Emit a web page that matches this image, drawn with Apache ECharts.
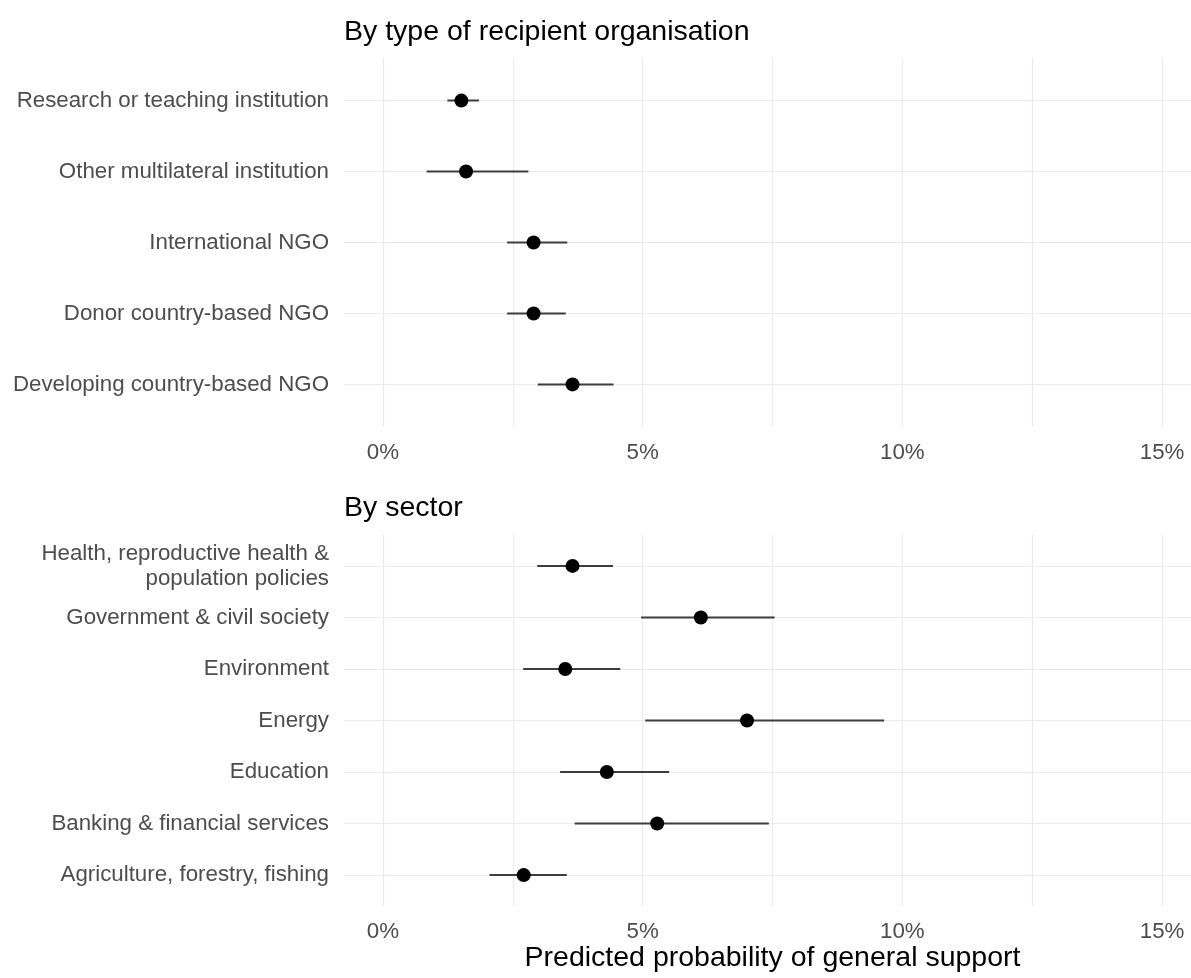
<!DOCTYPE html>
<html>
<head>
<meta charset="utf-8">
<script src="https://cdn.jsdelivr.net/npm/echarts@6/dist/echarts.min.js"></script>
<style>
html,body{margin:0;padding:0;background:#ffffff;}
#chart{width:1191px;height:978px;}
</style>
</head>
<body>
<div id="chart"></div>
<script>
// ---- Data (percent) ----
const orgCategories = [
  'Research or teaching institution',
  'Other multilateral institution',
  'International NGO',
  'Donor country-based NGO',
  'Developing country-based NGO'
];
const orgEstimate = [1.51, 1.60, 2.90, 2.90, 3.65];
const orgLower    = [1.24, 0.84, 2.39, 2.39, 2.98];
const orgUpper    = [1.85, 2.80, 3.55, 3.52, 4.44];

const sectorCategories = [
  'Health, reproductive health &\npopulation policies',
  'Government & civil society',
  'Environment',
  'Energy',
  'Education',
  'Banking & financial services',
  'Agriculture, forestry, fishing'
];
const sectorEstimate = [3.65, 6.12, 3.51, 7.01, 4.31, 5.28, 2.71];
const sectorLower    = [2.97, 4.97, 2.70, 5.05, 3.41, 3.69, 2.05];
const sectorUpper    = [4.43, 7.54, 4.57, 9.65, 5.51, 7.43, 3.54];

const xTickLabels = [0, 5, 10, 15];
const xGridValues = [0, 2.5, 5, 7.5, 10, 12.5, 15];
const panelTitles = ['By type of recipient organisation', 'By sector'];
const xAxisTitle = 'Predicted probability of general support';

// ---- Styling ----
const FONT = "'Liberation Sans', Arial, Helvetica, sans-serif";
const GRID_COLOR = '#EBEBEB';
const LABEL_COLOR = '#4D4D4D';

function positions(n) { const a = []; for (let i = 1; i <= n; i++) a.push(i); return a; }

function rangeItem(params, api) {
  const y = api.value(0);
  const p1 = api.coord([api.value(1), y]);
  const p2 = api.coord([api.value(2), y]);
  return {
    type: 'line',
    shape: { x1: p1[0], y1: p1[1], x2: p2[0], y2: p2[1] },
    style: { stroke: '#3d3d3d', lineWidth: 2 }
  };
}

function xAxisFor(gridIndex, withName) {
  const ax = {
    type: 'value',
    gridIndex: gridIndex,
    min: -0.75,
    max: 15.75,
    axisLine: { show: false },
    axisTick: { show: false, customValues: xGridValues },
    splitLine: { show: true, lineStyle: { color: GRID_COLOR, width: 1.2 } },
    axisLabel: {
      customValues: xTickLabels,
      formatter: v => v + '%',
      color: LABEL_COLOR,
      fontFamily: FONT,
      fontSize: 22.3,
      margin: 15
    }
  };
  if (withName) {
    ax.name = xAxisTitle;
    ax.nameLocation = 'middle';
    ax.nameGap = 37;
    ax.nameTextStyle = { color: '#000', fontFamily: FONT, fontSize: 28.5 };
  }
  return ax;
}

function yAxisFor(gridIndex, cats) {
  const pos = positions(cats.length);
  return {
    type: 'value',
    gridIndex: gridIndex,
    inverse: true,
    min: 0.4,
    max: cats.length + 0.6,
    axisLine: { show: false },
    axisTick: { show: false, customValues: pos },
    splitLine: { show: true, lineStyle: { color: GRID_COLOR, width: 1.2 } },
    axisLabel: {
      customValues: pos,
      formatter: v => cats[Math.round(v) - 1],
      color: LABEL_COLOR,
      fontFamily: FONT,
      fontSize: 22.3,
      lineHeight: 25,
      margin: 15
    }
  };
}

function rangeData(lo, hi) { return lo.map((l, i) => [i + 1, l, hi[i]]); }
function pointData(est) { return est.map((e, i) => [e, i + 1]); }

const chart = echarts.init(document.getElementById('chart'), null, { renderer: 'canvas' });

const option = {
  backgroundColor: '#ffffff',
  animation: false,
  title: [
    { text: panelTitles[0], left: 344, top: 18, padding: 0,
      textStyle: { color: '#000', fontFamily: FONT, fontSize: 28.5, fontWeight: 'normal' } },
    { text: panelTitles[1], left: 344, top: 494, padding: 0,
      textStyle: { color: '#000', fontFamily: FONT, fontSize: 28.5, fontWeight: 'normal' } }
  ],
  grid: [
    { left: 344, right: -10, top: 58, height: 369, containLabel: false, outerBoundsMode: 'none' },
    { left: 344, right: -10, top: 535, height: 371, containLabel: false, outerBoundsMode: 'none' }
  ],
  xAxis: [xAxisFor(0, false), xAxisFor(1, true)],
  yAxis: [yAxisFor(0, orgCategories), yAxisFor(1, sectorCategories)],
  series: [
    { type: 'custom', xAxisIndex: 0, yAxisIndex: 0, renderItem: rangeItem,
      encode: { x: [1, 2], y: 0 }, data: rangeData(orgLower, orgUpper), z: 2 },
    { type: 'scatter', xAxisIndex: 0, yAxisIndex: 0, symbol: 'circle', symbolSize: 14,
      itemStyle: { color: '#000', opacity: 1 }, data: pointData(orgEstimate), z: 3 },
    { type: 'custom', xAxisIndex: 1, yAxisIndex: 1, renderItem: rangeItem,
      encode: { x: [1, 2], y: 0 }, data: rangeData(sectorLower, sectorUpper), z: 2 },
    { type: 'scatter', xAxisIndex: 1, yAxisIndex: 1, symbol: 'circle', symbolSize: 14,
      itemStyle: { color: '#000', opacity: 1 }, data: pointData(sectorEstimate), z: 3 }
  ]
};
chart.setOption(option);
</script>
</body>
</html>
